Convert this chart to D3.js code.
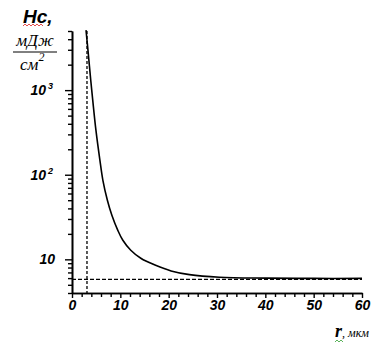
<!DOCTYPE html>
<html>
<head>
<meta charset="utf-8">
<script src="https://cdn.jsdelivr.net/npm/d3@7"></script>
<style>
  body { margin: 0; background: #fff; }
  svg { display: block; }
  .tick-lbl { font-family: "Liberation Sans", Arial, sans-serif; font-weight: bold; font-style: italic; font-size: 14px; fill: #000; }
  .unit { font-family: "Liberation Serif", "Times New Roman", serif; font-style: italic; fill: #000; }
</style>
</head>
<body>
<svg id="chart" width="389" height="345"></svg>
<script>
// curve: r (мкм) -> Hc (мДж/см²)
const rVals = [2.9, 3.3, 3.88, 4.29, 4.95, 5.77, 6.39, 7.32, 8.25, 9.48, 10.52, 12.16, 14.23, 17.3, 20.5, 24.3, 30.5, 40, 50, 60];
const hVals = [5130, 2970, 1310, 762, 336, 149, 86, 50, 33.2, 22, 16.8, 12.8, 10.3, 8.5, 7.3, 6.6, 6.15, 6.0, 5.95, 5.95];
const xTicks = [0, 10, 20, 30, 40, 50, 60];
const yTicks = [10, 100, 1000];
const yTickLabels = [["10", ""], ["10", "2"], ["10", "3"]];
const dashR = 3.1;   // vertical guide
const dashH = 5.8;   // horizontal guide

const svg = d3.select('#chart');
const plotL = 72, plotR = 362, plotT = 31, plotB = 293;

const x = d3.scaleLinear().domain([0, 60]).range([plotL, plotR]);
const y = d3.scaleLog().domain([4, 5000]).range([plotB, plotT]);

// minor log ticks
const yMinor = [];
for (let p = 1; p <= 1000; p *= 10) {
    for (let k = 1; k <= 9; k++) {
        const v = k * p;
        if (v >= 4 && v <= 5000 && yTicks.indexOf(v) < 0) yMinor.push(v);
    }
}
const xMinor = d3.range(0, 61, 2).filter(v => v % 10 !== 0);

function styleAxis(g) {
    g.select('.domain').attr('stroke', '#000').attr('stroke-width', 1.6);
    g.selectAll('.tick line').attr('stroke', '#000').attr('stroke-width', 1.4);
}

svg.append('g')
    .attr('transform', `translate(${plotL},0)`)
    .call(d3.axisLeft(y).tickValues(yMinor).tickSize(4).tickSizeOuter(0).tickFormat(''))
    .call(styleAxis);
svg.append('g')
    .attr('transform', `translate(${plotL},0)`)
    .call(d3.axisLeft(y).tickValues(yTicks).tickSize(7).tickSizeOuter(0).tickFormat(''))
    .call(styleAxis);

svg.append('g')
    .attr('transform', `translate(0,${plotB})`)
    .call(d3.axisBottom(x).tickValues(xMinor).tickSize(4).tickSizeOuter(0).tickFormat(''))
    .call(styleAxis);
const xAxis = svg.append('g')
    .attr('transform', `translate(0,${plotB})`)
    .call(d3.axisBottom(x).tickValues(xTicks).tickSize(5).tickSizeOuter(0))
    .call(styleAxis);
xAxis.attr('font-family', null).attr('font-size', null);
xAxis.selectAll('.tick text')
    .attr('class', 'tick-lbl')
    .attr('y', 17)
    .attr('dy', 0);

// y tick labels with superscripts
yTicks.forEach((v, i) => {
    const t = svg.append('text')
        .attr('class', 'tick-lbl')
        .attr('text-anchor', 'end')
        .attr('x', yTickLabels[i][1] ? 53 : 55)
        .attr('y', y(v) + 5);
    t.append('tspan').text(yTickLabels[i][0]);
    if (yTickLabels[i][1]) {
        t.append('tspan').attr('dy', -6).attr('dx', 2).style('font-size', '9px').text(yTickLabels[i][1]);
    }
});

// dashed guides
svg.append('line')
    .attr('x1', x(dashR)).attr('x2', x(dashR))
    .attr('y1', plotT).attr('y2', plotB)
    .attr('stroke', '#000').attr('stroke-width', 1.3)
    .attr('stroke-dasharray', '3,2');
svg.append('line')
    .attr('x1', plotL).attr('x2', plotR)
    .attr('y1', y(dashH)).attr('y2', y(dashH))
    .attr('stroke', '#000').attr('stroke-width', 1.3)
    .attr('stroke-dasharray', '4,2');

// curve
const pts = rVals.map((r, i) => [r, hVals[i]]);
svg.append('path')
    .datum(pts)
    .attr('fill', 'none')
    .attr('stroke', '#000')
    .attr('stroke-width', 1.6)
    .attr('d', d3.line().x(d => x(d[0])).y(d => y(d[1])).curve(d3.curveCatmullRom.alpha(0.5)));

// y axis title
svg.append('text')
    .attr('class', 'tick-lbl')
    .attr('x', 23).attr('y', 23)
    .style('font-size', '19px')
    .text('Hc,');
svg.append('path')
    .attr('d', d3.range(23, 44, 2).map((px, i) => (i ? 'L' : 'M') + px + ',' + (i % 2 ? 24 : 26)).join(''))
    .attr('fill', 'none').attr('stroke', '#e02020').attr('stroke-width', 0.8);
svg.append('text')
    .attr('class', 'unit')
    .attr('x', 35).attr('y', 46)
    .attr('text-anchor', 'middle')
    .attr('font-size', 17)
    .text('мДж');
svg.append('line')
    .attr('x1', 13).attr('x2', 57).attr('y1', 52).attr('y2', 52)
    .attr('stroke', '#000').attr('stroke-width', 1);
const cm = svg.append('text')
    .attr('class', 'unit')
    .attr('x', 20).attr('y', 70)
    .attr('font-size', 17);
cm.append('tspan').text('см');
cm.append('tspan').attr('dy', -9).attr('font-size', 12).text('2');

// x axis title
const xt = svg.append('text')
    .attr('x', 335).attr('y', 337);
xt.append('tspan')
    .attr('font-family', '"Liberation Serif", serif')
    .attr('font-weight', 'bold')
    .attr('font-style', 'italic')
    .attr('font-size', 18)
    .text('r');
xt.append('tspan')
    .attr('class', 'unit')
    .attr('font-size', 12)
    .text(', мкм');
svg.append('path')
    .attr('d', d3.range(335, 344, 2).map((px, i) => (i ? 'L' : 'M') + px + ',' + (i % 2 ? 340 : 342)).join(''))
    .attr('fill', 'none').attr('stroke', '#30a030').attr('stroke-width', 0.8);
</script>
</body>
</html>
